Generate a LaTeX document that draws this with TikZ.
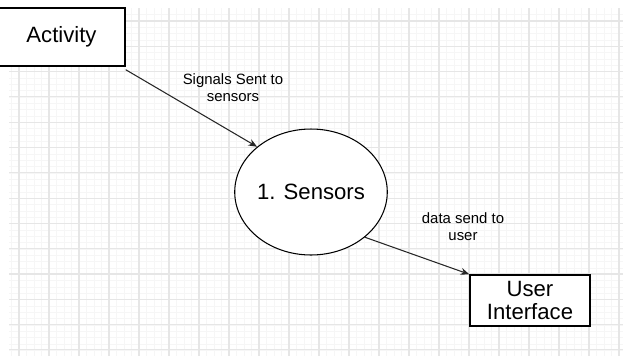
\documentclass[tikz,border=0pt]{standalone}
\usepackage{fontspec}
\setmainfont{Liberation Sans}
\usepackage{xcolor}
\usepackage{tikz}
\usetikzlibrary{positioning, arrows.meta, shapes.geometric}
\definecolor{gridmaj}{HTML}{E6E6E6}
\definecolor{gridmin}{HTML}{F6F6F6}

\begin{document}
\begin{tikzpicture}[x=0.02cm, y=-0.02cm,
  box/.style={draw, line width=0.8pt, align=center, inner sep=0pt, fill=white, font=\fontsize{12.6}{13}\selectfont},
  proc/.style={ellipse, draw, line width=0.6pt, fill=white, inner sep=0pt, minimum width=2.96cm, minimum height=2.52cm, font=\fontsize{12.6}{13}\selectfont},
  arrow/.style={-{Stealth[length=5pt, width=4pt]}, line width=0.6pt, draw=black!85},
  lbl/.style={align=center, font=\fontsize{8.5}{9.5}\selectfont}]

  \useasboundingbox (0,0) rectangle (623,356);
  \clip (0,0) rectangle (623,356);

  % grid
  \foreach \i in {0,...,81}
    \draw[gridmin, line width=0.4pt] ({11.5+7.5*\i},8) -- (11.5+7.5*\i,356);
  \foreach \j in {0,...,53}
    \draw[gridmin, line width=0.4pt] (9,{14.7+6.33*\j}) -- (623,{14.7+6.33*\j});
  \foreach \i in {0,...,20}
    \draw[gridmaj, line width=0.6pt] ({19+30*\i},8) -- ({19+30*\i},356);
  \foreach \j in {0,...,13}
    \draw[gridmaj, line width=0.6pt] (9,{21+25.3*\j}) -- (623,{21+25.3*\j});

  \node[box, minimum width=2.54cm, minimum height=1.16cm] (act) at (61.5,37) {Activity};
  \node[proc] (sens) at (311,192) {1. Sensors};
  \node[box, minimum width=2.4cm, minimum height=1.02cm] (ui) at (530,300.5) {User\\Interface};

  \node[lbl] (sig) at (233,88) {Signals Sent to\\sensors};
  \node[lbl] (dat) at (463,227) {data send to\\user};

  \draw[arrow] ([yshift=-1.7pt]act.south east) -- (sens.140);
  \draw[arrow] (sens.-40) -- (ui.north west);
\end{tikzpicture}
\end{document}
